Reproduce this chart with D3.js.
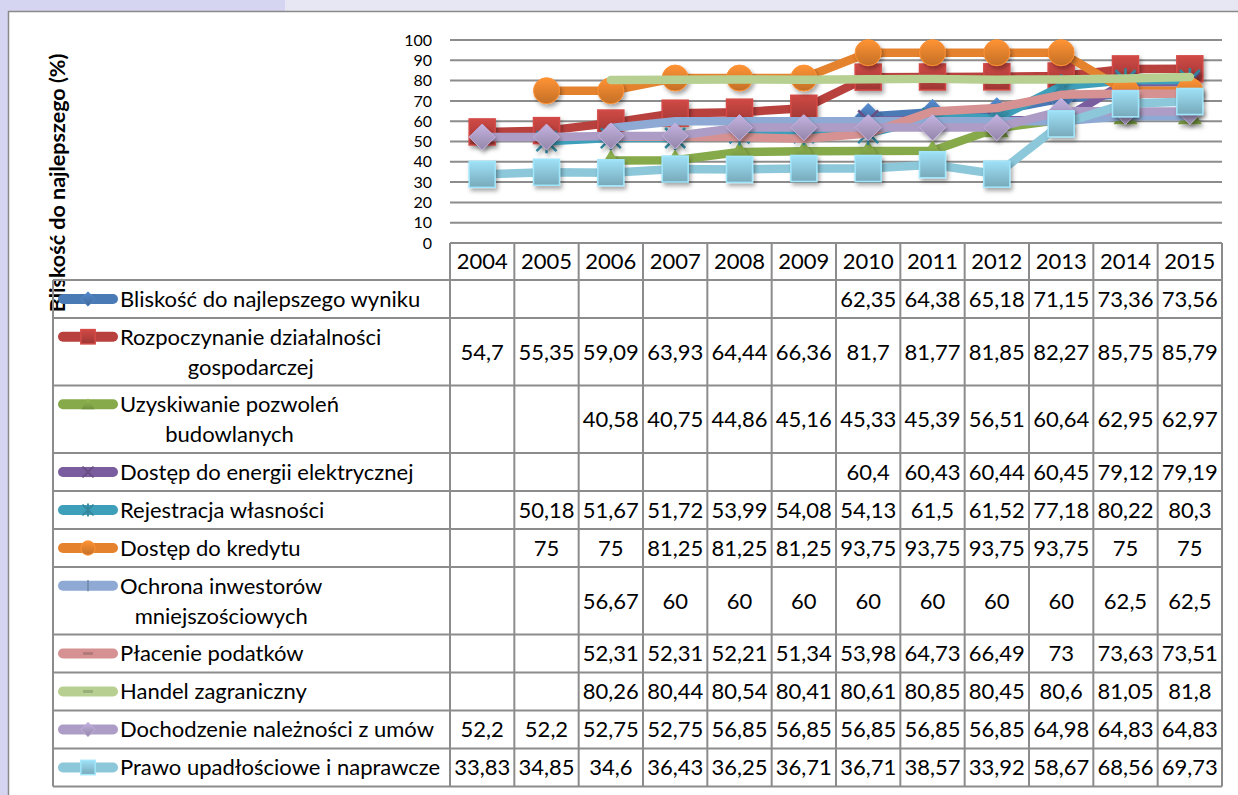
<!DOCTYPE html>
<html lang="pl">
<head>
<meta charset="UTF-8">
<title>Bliskość do najlepszego wyniku</title>
<script src="https://cdn.jsdelivr.net/npm/d3@7"></script>
<style>
    html, body { margin: 0; padding: 0; background: #d5d5f1; overflow: hidden; }
    svg { display: block; font-family: Lato, "Open Sans", sans-serif; }
</style>
</head>
<body>
<svg width="1238" height="795"></svg>
<script>
    // data
    const years = [2004, 2005, 2006, 2007, 2008, 2009, 2010, 2011, 2012, 2013, 2014, 2015];
    const yTicks = [0, 10, 20, 30, 40, 50, 60, 70, 80, 90, 100];

    const blisko       = [null, null, null, null, null, null, 62.35, 64.38, 65.18, 71.15, 73.36, 73.56];
    const rozpoczynanie = [54.7, 55.35, 59.09, 63.93, 64.44, 66.36, 81.7, 81.77, 81.85, 82.27, 85.75, 85.79];
    const pozwolenia   = [null, null, 40.58, 40.75, 44.86, 45.16, 45.33, 45.39, 56.51, 60.64, 62.95, 62.97];
    const energia      = [null, null, null, null, null, null, 60.4, 60.43, 60.44, 60.45, 79.12, 79.19];
    const rejestracja  = [null, 50.18, 51.67, 51.72, 53.99, 54.08, 54.13, 61.5, 61.52, 77.18, 80.22, 80.3];
    const kredyt       = [null, 75, 75, 81.25, 81.25, 81.25, 93.75, 93.75, 93.75, 93.75, 75, 75];
    const ochrona      = [null, null, 56.67, 60, 60, 60, 60, 60, 60, 60, 62.5, 62.5];
    const podatki      = [null, null, 52.31, 52.31, 52.21, 51.34, 53.98, 64.73, 66.49, 73, 73.63, 73.51];
    const handel       = [null, null, 80.26, 80.44, 80.54, 80.41, 80.61, 80.85, 80.45, 80.6, 81.05, 81.8];
    const dochodzenie  = [52.2, 52.2, 52.75, 52.75, 56.85, 56.85, 56.85, 56.85, 56.85, 64.98, 64.83, 64.83];
    const prawo        = [33.83, 34.85, 34.6, 36.43, 36.25, 36.71, 36.71, 38.57, 33.92, 58.67, 68.56, 69.73];

    const labels = [
        ["Bliskość do najlepszego wyniku"],
        ["Rozpoczynanie działalności", "gospodarczej"],
        ["Uzyskiwanie pozwoleń", "budowlanych"],
        ["Dostęp do energii elektrycznej"],
        ["Rejestracja własności"],
        ["Dostęp do kredytu"],
        ["Ochrona inwestorów", "mniejszościowych"],
        ["Płacenie podatków"],
        ["Handel zagraniczny"],
        ["Dochodzenie należności z umów"],
        ["Prawo upadłościowe i naprawcze"]
    ];
    const values = [blisko, rozpoczynanie, pozwolenia, energia, rejestracja, kredyt,
                    ochrona, podatki, handel, dochodzenie, prawo];
    const colors = ["#4a7ab5", "#b8403d", "#86a94a", "#7a5d9e", "#3d9fba", "#e5822e",
                    "#8eaad4", "#d69292", "#b7d092", "#ad9dc6", "#8cc7da"];
    const markers = ["diamond", "square", "triangle", "x", "star", "circle",
                     "plus", "dash", "dash", "diamond", "square"];

    const PLOT_LEFT = 450, PLOT_RIGHT = 1222, PLOT_TOP = 40, PLOT_BOTTOM = 243;
    const HEADER_BOTTOM = 280, TABLE_LEFT = 53;
    const GRID = "#8c8c8c";
    const FONT = 22;

    const svg = d3.select("svg");

    // background frame
    svg.append("rect").attr("x", 285).attr("y", 0).attr("width", 953).attr("height", 11).attr("fill", "#e7e7f3");
    svg.append("rect").attr("x", 8.5).attr("y", 11.5).attr("width", 1240).attr("height", 800)
        .attr("fill", "#fff").attr("stroke", "#8a8a8a").attr("stroke-width", 1.5);

    const defs = svg.append("defs");
    const shadow = defs.append("filter").attr("id", "shadow")
        .attr("x", "-50%").attr("y", "-50%").attr("width", "200%").attr("height", "200%");
    shadow.append("feDropShadow").attr("dx", 2).attr("dy", 3).attr("stdDeviation", 2)
        .attr("flood-color", "#000").attr("flood-opacity", 0.35);

    colors.forEach((c, i) => {
        const g = defs.append("linearGradient").attr("id", "grad" + i)
            .attr("x1", 0).attr("y1", 0).attr("x2", 0).attr("y2", 1);
        g.append("stop").attr("offset", "0%").attr("stop-color", d3.color(c).brighter(0.35));
        g.append("stop").attr("offset", "100%").attr("stop-color", d3.color(c).darker(0.45));
    });

    const x = d3.scaleBand().domain(years).range([PLOT_LEFT, PLOT_RIGHT]);
    const y = d3.scaleLinear().domain([0, 100]).range([PLOT_BOTTOM, PLOT_TOP]);

    // gridlines
    svg.append("g").selectAll("line").data(yTicks).join("line")
        .attr("x1", PLOT_LEFT).attr("x2", PLOT_RIGHT)
        .attr("y1", d => y(d)).attr("y2", d => y(d))
        .attr("stroke", GRID).attr("stroke-width", 2);

    const yAxis = svg.append("g").attr("transform", `translate(${PLOT_LEFT},0)`)
        .call(d3.axisLeft(y).tickValues(yTicks).tickSize(0).tickPadding(18));
    yAxis.select(".domain").remove();
    yAxis.selectAll("text").attr("font-size", 16).attr("font-family", "Lato, sans-serif").attr("fill", "#000");

    svg.append("text")
        .attr("transform", "translate(65,183) rotate(-90)")
        .attr("text-anchor", "middle").attr("font-weight", "bold").attr("font-size", 21.5)
        .text("Bliskość do najlepszego (%)");

    // table layout
    const rowHeights = labels.map(l => l.length > 1 ? 67.5 : 38);
    const rowTops = [];
    rowHeights.reduce((acc, h) => { rowTops.push(acc); return acc + h; }, HEADER_BOTTOM);
    const tableBottom = rowTops[rowTops.length - 1] + rowHeights[rowHeights.length - 1];

    const table = svg.append("g");
    // horizontal lines
    table.selectAll("line.h").data(rowTops.concat([tableBottom])).join("line")
        .attr("x1", TABLE_LEFT).attr("x2", PLOT_RIGHT)
        .attr("y1", d => d).attr("y2", d => d)
        .attr("stroke", GRID).attr("stroke-width", 2);
    // vertical lines
    const colEdges = years.map(d => x(d)).concat([PLOT_RIGHT]);
    table.selectAll("line.v").data(colEdges).join("line")
        .attr("x1", d => d).attr("x2", d => d)
        .attr("y1", PLOT_BOTTOM).attr("y2", tableBottom)
        .attr("stroke", GRID).attr("stroke-width", 2);
    table.append("line").attr("x1", TABLE_LEFT).attr("x2", TABLE_LEFT)
        .attr("y1", HEADER_BOTTOM).attr("y2", tableBottom)
        .attr("stroke", GRID).attr("stroke-width", 2);

    // header years
    table.selectAll("text.year").data(years).join("text")
        .attr("x", d => x(d) + x.bandwidth() / 2)
        .attr("y", (PLOT_BOTTOM + HEADER_BOTTOM) / 2)
        .attr("dy", "0.36em").attr("text-anchor", "middle").attr("font-size", FONT)
        .text(d => d);

    const fmt = v => String(v).replace(".", ",");

    // marker shapes
    function drawMarker(g, type, i, s) {
        const c = colors[i];
        const dark = d3.color(c).darker(0.5);
        if (type === "diamond") {
            g.append("path").attr("d", `M0,${-13 * s}L${13 * s},0L0,${13 * s}L${-13 * s},0Z`)
                .attr("fill", `url(#grad${i})`).attr("stroke", d3.color(c).brighter(0.3)).attr("stroke-width", 1);
        } else if (type === "square") {
            g.append("rect").attr("x", -13 * s).attr("y", -13 * s).attr("width", 26 * s).attr("height", 26 * s)
                .attr("fill", `url(#grad${i})`).attr("stroke", d3.color(c).brighter(0.4)).attr("stroke-width", 1.5);
        } else if (type === "triangle") {
            g.append("path").attr("d", `M0,${-11 * s}L${12 * s},${9 * s}L${-12 * s},${9 * s}Z`)
                .attr("fill", `url(#grad${i})`);
        } else if (type === "circle") {
            g.append("circle").attr("r", 13 * s)
                .attr("fill", `url(#grad${i})`).attr("stroke", d3.color(c).brighter(0.3)).attr("stroke-width", 1);
        } else if (type === "x" || type === "star") {
            let d = `M${-10 * s},${-10 * s}L${10 * s},${10 * s}M${-10 * s},${10 * s}L${10 * s},${-10 * s}`;
            if (type === "star") d += `M0,${-12 * s}V${12 * s}`;
            g.append("path").attr("d", d).attr("stroke", dark).attr("stroke-width", 2.5 * Math.max(s, 0.7)).attr("fill", "none");
        } else if (type === "plus") {
            g.append("path").attr("d", `M0,${-10 * s}V${10 * s}`).attr("stroke", dark).attr("stroke-width", 2);
        } else if (type === "dash") {
            g.append("path").attr("d", `M${-9 * s},0H${9 * s}`).attr("stroke", dark).attr("stroke-width", 3);
        }
    }

    // rows: legend key, label and values
    labels.forEach((lines, i) => {
        const top = rowTops[i], h = rowHeights[i], mid = top + h / 2;
        const firstY = lines.length > 1 ? mid - 15 : mid;
        const row = table.append("g");

        row.append("line").attr("x1", 63).attr("x2", 113).attr("y1", firstY).attr("y2", firstY)
            .attr("stroke", colors[i]).attr("stroke-width", 10).attr("stroke-linecap", "round");
        drawMarker(row.append("g").attr("transform", `translate(88,${firstY})`), markers[i], i, 0.55);

        const t1 = row.append("text").attr("x", 120).attr("y", firstY).attr("dy", "0.36em")
            .attr("font-size", FONT).text(lines[0]);
        if (lines.length > 1) {
            const w = t1.node().getComputedTextLength();
            row.append("text").attr("x", 120 + w / 2).attr("y", mid + 15).attr("dy", "0.36em")
                .attr("text-anchor", "middle").attr("font-size", FONT).text(lines[1]);
        }

        row.selectAll("text.val").data(values[i].map((v, j) => ({ v, year: years[j] })).filter(d => d.v != null))
            .join("text")
            .attr("x", d => x(d.year) + x.bandwidth() / 2).attr("y", mid).attr("dy", "0.36em")
            .attr("text-anchor", "middle").attr("font-size", FONT)
            .text(d => fmt(d.v));
    });

    // series lines and markers, drawn one series after another
    const line = d3.line()
        .defined(d => d.v != null)
        .x(d => x(d.year) + x.bandwidth() / 2)
        .y(d => y(d.v));

    values.forEach((vals, i) => {
        const pts = vals.map((v, j) => ({ v, year: years[j] }));
        const g = svg.append("g");
        g.append("path").datum(pts).attr("d", line)
            .attr("fill", "none").attr("stroke", colors[i]).attr("stroke-width", 8.5)
            .attr("stroke-linejoin", "round").attr("stroke-linecap", "round");
        pts.filter(d => d.v != null).forEach(d => {
            const m = g.append("g")
                .attr("transform", `translate(${x(d.year) + x.bandwidth() / 2},${y(d.v)})`)
                .attr("filter", "url(#shadow)");
            drawMarker(m, markers[i], i, 1);
        });
    });
</script>
</body>
</html>
